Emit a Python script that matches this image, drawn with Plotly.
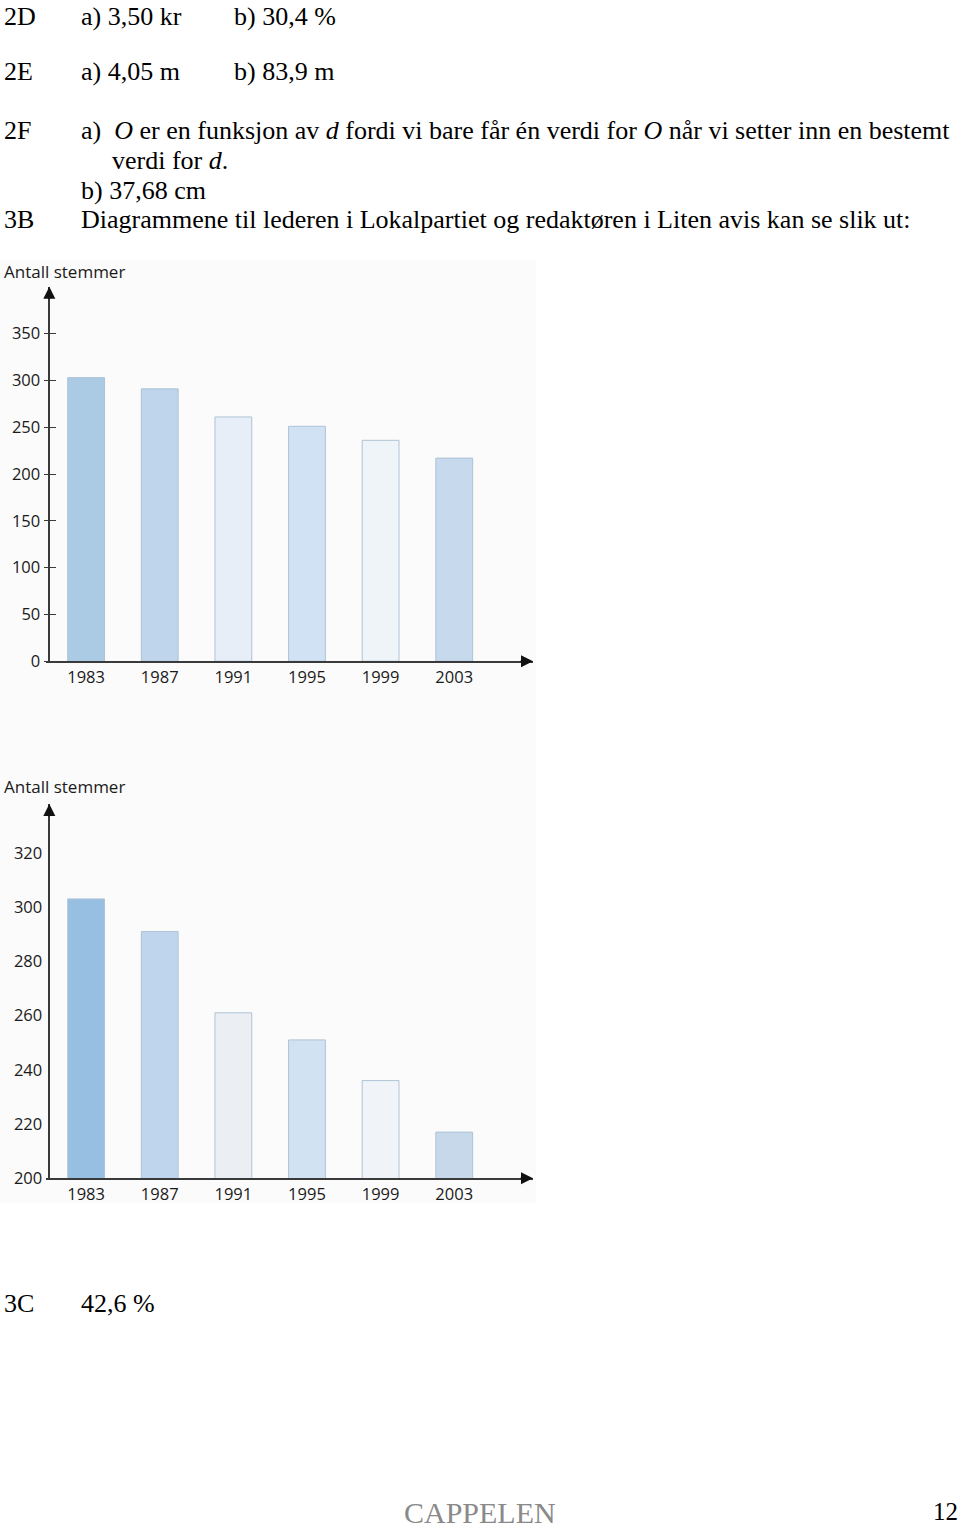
import plotly.graph_objects as go

W, H = 960, 1538

years = ["1983", "1987", "1991", "1995", "1999", "2003"]
votes = [303, 291, 261, 251, 236, 217]

colors_a = ["#abcbe5", "#bed5eb", "#e7eef7", "#d0e2f3", "#eff4f9", "#c6d9ed"]
colors_b = ["#96bfe1", "#bfd5ed", "#ebeef3", "#d1e2f3", "#f0f4f8", "#c7d8eb"]
edge = "#aec3d6"

y_title = "Antall stemmer"
ticks_a = [0, 50, 100, 150, 200, 250, 300, 350]
ticks_b = [200, 220, 240, 260, 280, 300, 320]

def px(x):
    return x / W

def py(y):
    return 1 - y / H

fig = go.Figure()
fig.add_trace(go.Bar(x=years, y=votes, marker=dict(color=colors_a, line=dict(color=edge, width=1)),
                     width=0.5, xaxis="x", yaxis="y", showlegend=False, hoverinfo="x+y"))
fig.add_trace(go.Bar(x=years, y=votes, marker=dict(color=colors_b, line=dict(color=edge, width=1)),
                     width=0.5, xaxis="x2", yaxis="y2", showlegend=False, hoverinfo="x+y"))

axis_col = "#3a3a3a"
tickfont = dict(family="Open Sans", size=16.5, color="#1a1a1a")
xr = [-0.545, 6.07]
xdom = [px(46), px(533)]
yaxis_pos = px(49.3)

common_x = dict(type="category", range=xr, domain=xdom, showline=True, linecolor=axis_col,
                linewidth=1.5, showgrid=False, zeroline=False, ticks="", tickfont=tickfont)
fig.update_layout(
    width=W, height=H, margin=dict(l=0, r=0, t=0, b=0),
    paper_bgcolor="white", plot_bgcolor="rgba(0,0,0,0)",
    bargap=0.5,
    xaxis=dict(anchor="y", **common_x),
    xaxis2=dict(anchor="y2", **common_x),
    yaxis=dict(domain=[py(666), py(288.9)], range=[0, 400], anchor="free", position=yaxis_pos,
               tickvals=ticks_a, ticks="outside", ticklen=5, tickcolor=axis_col, tickwidth=1.2,
               showline=True, linecolor=axis_col, linewidth=1.5, showgrid=False, zeroline=False,
               tickfont=tickfont),
    yaxis3=dict(domain=[py(666), py(288.9)], range=[0, 400], anchor="free", position=yaxis_pos,
                overlaying="y", tickvals=ticks_a, ticks="inside", ticklen=6, tickcolor=axis_col,
                tickwidth=1.2, showticklabels=False, showline=False, showgrid=False, zeroline=False),
    yaxis2=dict(domain=[py(1186.7), py(809.8)], range=[200, 338], anchor="free", position=yaxis_pos,
                tickvals=ticks_b, ticks="outside", ticklen=3, tickcolor="rgba(0,0,0,0)",
                showline=True, linecolor=axis_col, linewidth=1.5, showgrid=False, zeroline=False,
                tickfont=tickfont),
)
fig.add_trace(go.Scatter(x=[None], y=[None], xaxis="x", yaxis="y3", showlegend=False, hoverinfo="skip"))

# light picture background
fig.add_shape(type="rect", xref="paper", yref="paper", x0=0, x1=px(536), y0=py(1212), y1=py(262),
              fillcolor="#fbfbfb", line=dict(width=0), layer="below")

ann = []
# axis arrows
for xa, ya, ytop in (("x", "y", 400), ("x2", "y2", 338)):
    ann.append(dict(xref=xa, yref=ya, x=xr[1], y=(0 if ya == "y" else 200), ax=-14, ay=0,
                    showarrow=True, arrowhead=2, arrowsize=1.6, arrowwidth=1.5, arrowcolor="#111", text=""))
    ann.append(dict(xref=xa, yref=ya, x=-0.5, y=ytop, ax=0, ay=14,
                    showarrow=True, arrowhead=2, arrowsize=1.6, arrowwidth=1.5, arrowcolor="#111", text=""))
# axis titles
for yy in (273, 792):
    ann.append(dict(xref="paper", yref="paper", x=px(2), y=py(yy), xanchor="left", yanchor="middle",
                    text=y_title, showarrow=False, font=dict(family="Open Sans", size=17, color="#1a1a1a")))

serif = dict(family="Liberation Serif", size=26, color="black")
page_text = [
    (2, 1, "2D"), (79, 1, "a) 3,50 kr"), (232, 1, "b) 30,4 %"),
    (2, 72, "2E"), (79, 72, "a) 4,05 m"), (232, 72, "b) 83,9 m"),
    (2, 131, "2F"),
    (79, 131, "a)  <i>O</i> er en funksjon av <i>d</i> fordi vi bare får én verdi for <i>O</i> når vi setter inn en bestemt"),
    (110, 162, "verdi for <i>d</i>."),
    (79, 192, "b) 37,68 cm"),
    (2, 221, "3B"), (79, 221, "Diagrammene til lederen i Lokalpartiet og redaktøren i Liten avis kan se slik ut:"),
    (2, 1313, "3C"), (79, 1313, "42,6 %"),
]
for x, y, t in page_text:
    if y < 5:
        ann.append(dict(xref="paper", yref="paper", x=px(x), y=1, xanchor="left", yanchor="top",
                        text=t, showarrow=False, font=serif))
    else:
        ann.append(dict(xref="paper", yref="paper", x=px(x), y=py(y), xanchor="left", yanchor="middle",
                        text=t, showarrow=False, font=serif))
ann.append(dict(xref="paper", yref="paper", x=px(480), y=py(1523), xanchor="center", yanchor="middle",
                text="CAPPELEN", showarrow=False, font=dict(family="Liberation Serif", size=30, color="#8a8a8a")))
ann.append(dict(xref="paper", yref="paper", x=px(960), y=py(1522), xanchor="right", yanchor="middle",
                text="12", showarrow=False, font=dict(family="Liberation Serif", size=25, color="black")))
fig.update_layout(annotations=ann)

fig.write_html("out.html")
